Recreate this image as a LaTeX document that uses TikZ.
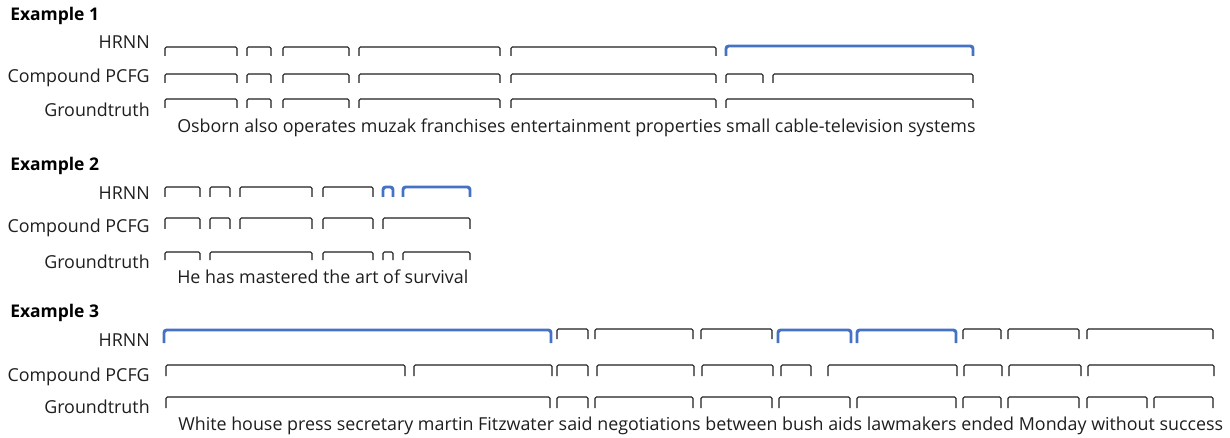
\documentclass[tikz,border=0pt]{standalone}
\usepackage{fontspec}
\setmainfont{Open Sans}
\usepackage{xcolor}
\usetikzlibrary{positioning}

\definecolor{hrnnblue}{RGB}{68,114,196}
\tikzset{
  span/.style={draw={rgb, 255:red, 30; green, 30; blue, 30}, line width=0.8pt, rounded corners=1pt},
  spanhit/.style={draw=hrnnblue, line width=2.2pt, rounded corners=2pt},
  rowlabel/.style={anchor=base east, inner sep=0.75pt, font=\fontsize{13.4}{16}\selectfont, text={rgb, 255:red, 30; green, 30; blue, 30}},
  sentence/.style={anchor=base west, inner sep=0.75pt, font=\fontsize{13.4}{16}\selectfont, text={rgb, 255:red, 30; green, 30; blue, 30}},
  extitle/.style={anchor=base west, inner sep=0.75pt, font=\fontsize{13.1}{15}\selectfont\bfseries}
}

\begin{document}
\begin{tikzpicture}[x=0.75pt,y=0.75pt,yscale=-1,xscale=1]
\useasboundingbox (0,0) rectangle (1230,438);

%%%%% Example 1
% Text Node
\draw (9,21) node [extitle] (t1) {Example 1};
\draw (151,49) node [rowlabel] (h1) {HRNN};
\draw (151,83) node [rowlabel] (c1) {Compound PCFG};
\draw (151,117) node [rowlabel] (g1) {Groundtruth};
\draw (176,133) node [sentence] (s1) {Osborn also operates muzak franchises entertainment properties small cable-television systems};
%Shape: Brackets HRNN
\draw [span] (165,56) -- (165,47) -- (237,47) -- (237,56) (247,56) -- (247,47) -- (271,47) -- (271,56) (283,56) -- (283,47) -- (349,47) -- (349,56) (359,56) -- (359,47) -- (500,47) -- (500,56) (511,56) -- (511,47) -- (716,47) -- (716,56) ;
\draw [spanhit] (726,56) -- (726,46) -- (973,46) -- (973,56) ;
%Shape: Brackets Compound PCFG
\draw [span] (165,83) -- (165,74) -- (237,74) -- (237,83) (247,83) -- (247,74) -- (271,74) -- (271,83) (283,83) -- (283,74) -- (349,74) -- (349,83) (359,83) -- (359,74) -- (500,74) -- (500,83) (511,83) -- (511,74) -- (716,74) -- (716,83) (726,83) -- (726,74) -- (763,74) -- (763,83) (773,83) -- (773,74) -- (973,74) -- (973,83) ;
%Shape: Brackets Groundtruth
\draw [span] (165,108) -- (165,99) -- (237,99) -- (237,108) (247,108) -- (247,99) -- (271,99) -- (271,108) (283,108) -- (283,99) -- (349,99) -- (349,108) (359,108) -- (359,99) -- (500,99) -- (500,108) (511,108) -- (511,99) -- (716,99) -- (716,108) (726,108) -- (726,99) -- (973,99) -- (973,108) ;

%%%%% Example 2
% Text Node
\draw (9,171) node [extitle] (t2) {Example 2};
\draw (151,200) node [rowlabel] (h2) {HRNN};
\draw (151,233) node [rowlabel] (c2) {Compound PCFG};
\draw (151,268) node [rowlabel] (g2) {Groundtruth};
\draw (176,283) node [sentence] (s2) {He has mastered the art of survival};
%Shape: Brackets HRNN
\draw [span] (165,197) -- (165,187) -- (200,187) -- (200,197) (210,197) -- (210,187) -- (230,187) -- (230,197) (240,197) -- (240,187) -- (312,187) -- (312,197) (323,197) -- (323,187) -- (373,187) -- (373,197) ;
\draw [spanhit] (383,197) -- (383,187) -- (393,187) -- (393,197) (403,197) -- (403,187) -- (470,187) -- (470,197) ;
%Shape: Brackets Compound PCFG
\draw [span] (165,229) -- (165,218) -- (200,218) -- (200,229) (210,229) -- (210,218) -- (230,218) -- (230,229) (240,229) -- (240,218) -- (312,218) -- (312,229) (323,229) -- (323,218) -- (373,218) -- (373,229) (383,229) -- (383,218) -- (470,218) -- (470,229) ;
%Shape: Brackets Groundtruth
\draw [span] (165,260) -- (165,252) -- (200,252) -- (200,260) (210,260) -- (210,252) -- (312,252) -- (312,260) (323,260) -- (323,252) -- (373,252) -- (373,260) (383,260) -- (383,252) -- (393,252) -- (393,260) (403,260) -- (403,252) -- (470,252) -- (470,260) ;

%%%%% Example 3
% Text Node
\draw (9,317) node [extitle] (t3) {Example 3};
\draw (151,346) node [rowlabel] (h3) {HRNN};
\draw (151,381) node [rowlabel] (c3) {Compound PCFG};
\draw (151,413) node [rowlabel] (g3) {Groundtruth};
\draw (177,430) node [sentence] (s3) {White house press secretary martin Fitzwater said negotiations between bush aids lawmakers ended Monday without success};
%Shape: Brackets HRNN
\draw [spanhit] (164,343) -- (164,330) -- (551,330) -- (551,343) (778,343) -- (778,330) -- (851,330) -- (851,343) (857,343) -- (857,330) -- (956,330) -- (956,343) ;
\draw [span] (557,339) -- (557,329) -- (588,329) -- (588,339) (595,339) -- (595,329) -- (693,329) -- (693,339) (701,339) -- (701,329) -- (772,329) -- (772,339) (963,339) -- (963,329) -- (1001,329) -- (1001,339) (1008,339) -- (1008,329) -- (1079,329) -- (1079,339) (1087,339) -- (1087,329) -- (1213,329) -- (1213,339) ;
%Shape: Brackets Compound PCFG
\draw [span] (166,376) -- (166,365) -- (405,365) -- (405,376) (414,376) -- (414,365) -- (552,365) -- (552,376) (557,376) -- (557,365) -- (588,365) -- (588,376) (597,376) -- (597,365) -- (694,365) -- (694,376) (702,376) -- (702,365) -- (773,365) -- (773,376) (781,376) -- (781,365) -- (811,365) -- (811,376) (828,376) -- (828,365) -- (957,365) -- (957,376) (964,376) -- (964,365) -- (1002,365) -- (1002,376) (1009,376) -- (1009,365) -- (1081,365) -- (1081,376) (1088,376) -- (1088,365) -- (1214,365) -- (1214,376) ;
%Shape: Brackets Groundtruth
\draw [span] (166,408) -- (166,397) -- (550,397) -- (550,408) (557,408) -- (557,397) -- (588,397) -- (588,408) (595,408) -- (595,397) -- (693,397) -- (693,408) (701,408) -- (701,397) -- (772,397) -- (772,408) (779,408) -- (779,397) -- (850,397) -- (850,408) (857,408) -- (857,397) -- (956,397) -- (956,408) (963,408) -- (963,397) -- (1001,397) -- (1001,408) (1008,408) -- (1008,397) -- (1079,397) -- (1079,408) (1087,408) -- (1087,397) -- (1147,397) -- (1147,408) (1154,408) -- (1154,397) -- (1213,397) -- (1213,408) ;

\end{tikzpicture}
\end{document}
